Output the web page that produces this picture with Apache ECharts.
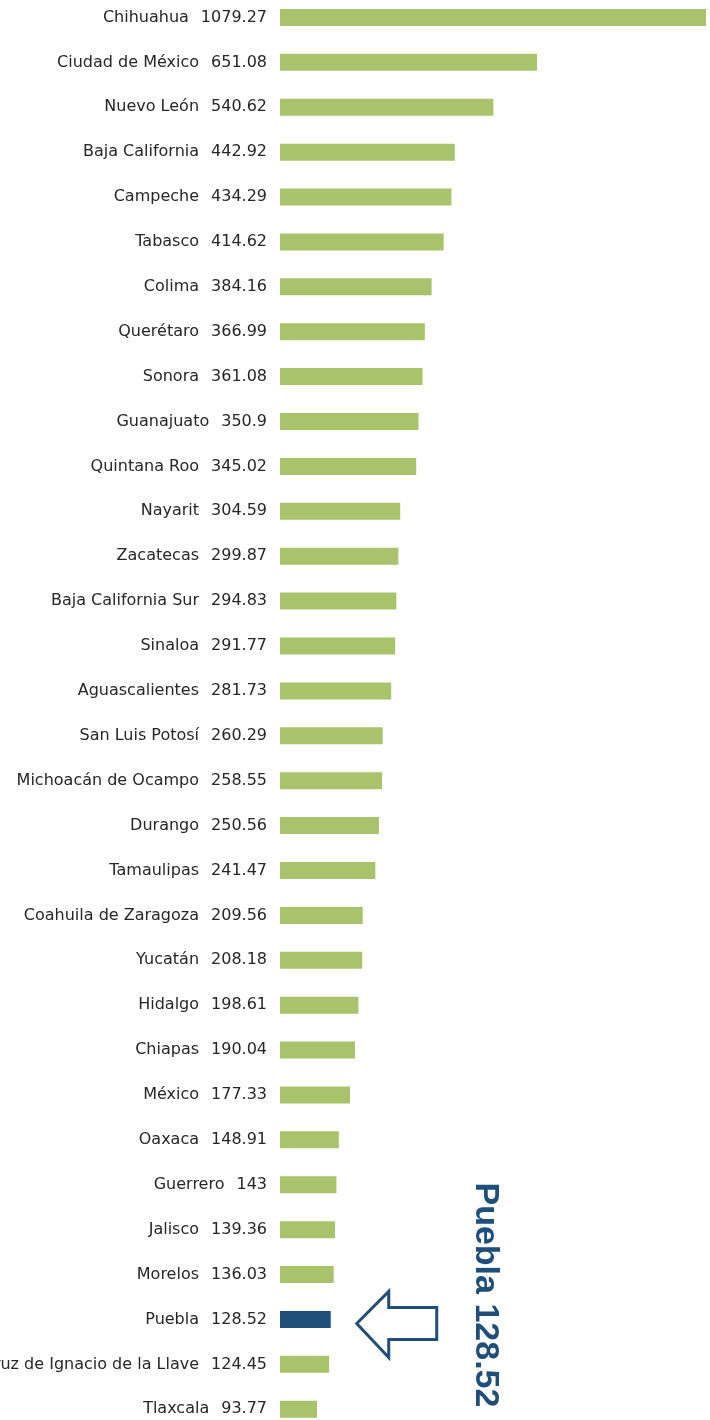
<!DOCTYPE html>
<html>
<head>
<meta charset="utf-8">
<script src="https://cdn.jsdelivr.net/npm/echarts@6/dist/echarts.min.js"></script>
<style>
  html, body { margin: 0; padding: 0; background: #fff; }
  #main { width: 710px; height: 1420px; }
</style>
</head>
<body>
<div id="main"></div>
<script>
// estados, de mayor a menor
var estados = [
    'Chihuahua', 'Ciudad de México', 'Nuevo León', 'Baja California', 'Campeche',
    'Tabasco', 'Colima', 'Querétaro', 'Sonora', 'Guanajuato', 'Quintana Roo',
    'Nayarit', 'Zacatecas', 'Baja California Sur', 'Sinaloa', 'Aguascalientes',
    'San Luis Potosí', 'Michoacán de Ocampo', 'Durango', 'Tamaulipas',
    'Coahuila de Zaragoza', 'Yucatán', 'Hidalgo', 'Chiapas', 'México', 'Oaxaca',
    'Guerrero', 'Jalisco', 'Morelos', 'Puebla', 'Veracruz de Ignacio de la Llave',
    'Tlaxcala'
];
var valores = [
    1079.27, 651.08, 540.62, 442.92, 434.29, 414.62, 384.16, 366.99, 361.08,
    350.9, 345.02, 304.59, 299.87, 294.83, 291.77, 281.73, 260.29, 258.55,
    250.56, 241.47, 209.56, 208.18, 198.61, 190.04, 177.33, 148.91, 143,
    139.36, 136.03, 128.52, 124.45, 93.77
];
var destacado = 'Puebla';

var verde = '#a8c36b';
var azul = '#1f4e79';
var fuente = 'DejaVu Sans';
var tam = 16;

var myChart = echarts.init(document.getElementById('main'));

var option = {
    backgroundColor: '#fff',
    animation: false,
    grid: {
        left: 280,
        right: 4,
        top: -5,
        bottom: -11.7,
        containLabel: false,
        outerBoundsMode: 'none' // si no, v6 encoge el grid para que quepan las etiquetas
    },
    xAxis: {
        type: 'value',
        min: 0,
        max: 1079.27,
        show: false
    },
    yAxis: {
        type: 'category',
        inverse: true,
        data: estados,
        axisLine: { show: false },
        axisTick: { show: false },
        splitLine: { show: false },
        axisLabel: {
            margin: 13,
            fontFamily: fuente,
            fontSize: tam,
            color: '#262626',
            formatter: function (name, i) {
                return '{n|' + name + '}{v|' + valores[i] + '}';
            },
            rich: {
                n: { fontFamily: fuente, fontSize: tam, color: '#262626', padding: [0, 12, 0, 0] },
                v: { fontFamily: fuente, fontSize: tam, color: '#262626' }
            }
        }
    },
    series: [{
        type: 'bar',
        barWidth: 17,
        silent: true,
        data: valores.map(function (v, i) {
            return {
                value: v,
                itemStyle: { color: estados[i] === destacado ? azul : verde }
            };
        })
    }]
};
myChart.setOption(option);

// flecha y rótulo junto a la barra destacada
var idx = estados.indexOf(destacado);
var p = myChart.convertToPixel({ seriesIndex: 0 }, [valores[idx], idx]);
var cy = p[1];
var ay = cy + 4;          // la flecha queda un poco por debajo de la barra
var tipX = p[0] + 26;
myChart.setOption({
    graphic: [
        {
            type: 'polygon',
            shape: {
                points: [
                    [tipX, ay],
                    [tipX + 32, ay - 32],
                    [tipX + 32, ay - 16],
                    [tipX + 80, ay - 16],
                    [tipX + 80, ay + 16],
                    [tipX + 32, ay + 16],
                    [tipX + 32, ay + 34]
                ]
            },
            style: { fill: '#fff', stroke: azul, lineWidth: 3 }
        },
        {
            type: 'text',
            x: 485,
            y: cy - 24.5,
            rotation: -Math.PI / 2,
            style: {
                text: destacado + ' ' + valores[idx],
                fontFamily: 'Liberation Sans',
                fontWeight: 'bold',
                fontSize: 34,
                fill: azul,
                align: 'center',
                verticalAlign: 'middle'
            }
        }
    ]
});
</script>
</body>
</html>
